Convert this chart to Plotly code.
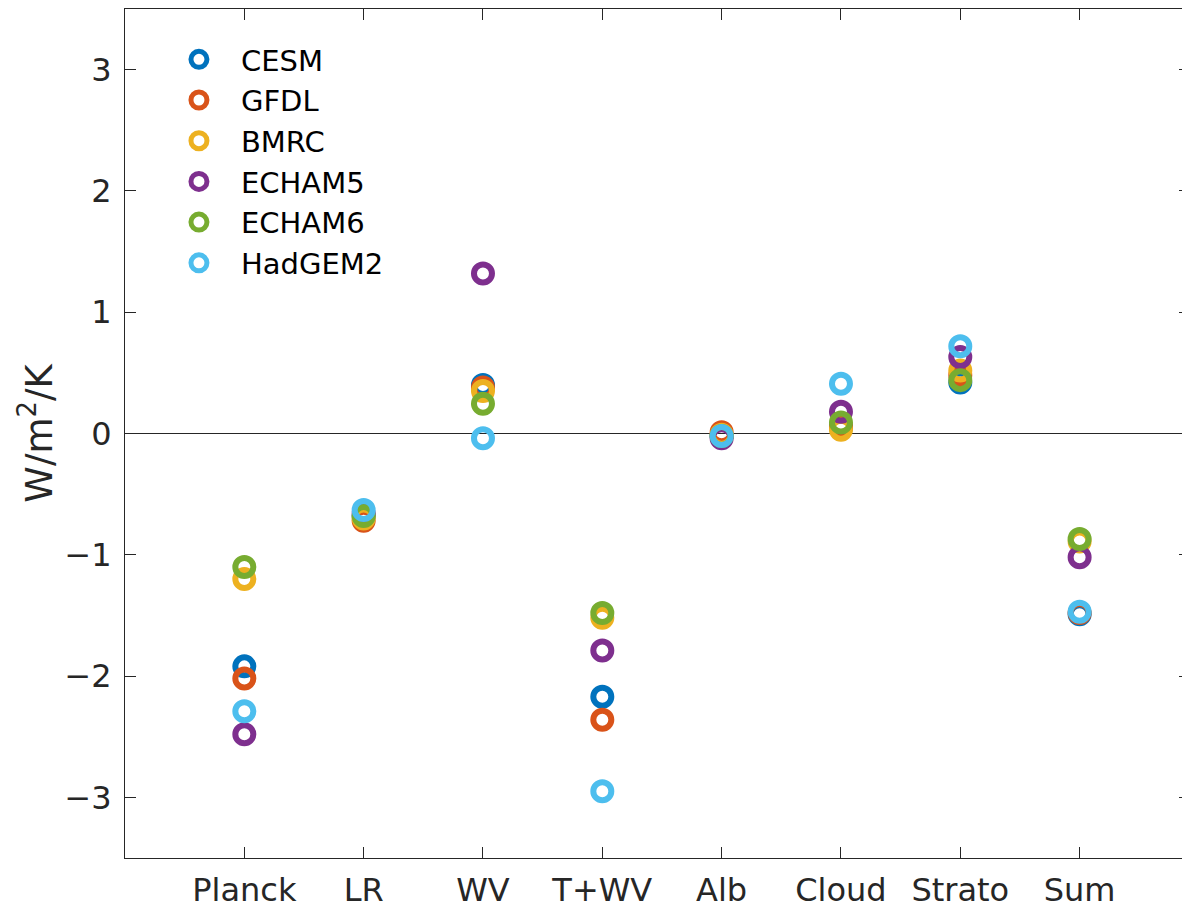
import plotly.graph_objects as go

categories = ["Planck", "LR", "WV", "T+WV", "Alb", "Cloud", "Strato", "Sum"]
models = ["CESM", "GFDL", "BMRC", "ECHAM5", "ECHAM6", "HadGEM2"]

cesm    = [-1.92, -0.68,  0.40, -2.17, -0.02, 0.05, 0.42, -1.49]
gfdl    = [-2.02, -0.72,  0.38, -2.36,  0.01, 0.06, 0.48, -1.48]
bmrc    = [-1.20, -0.70,  0.35, -1.52, -0.01, 0.03, 0.52, -0.89]
echam5  = [-2.48, -0.66,  1.32, -1.79, -0.04, 0.18, 0.63, -1.02]
echam6  = [-1.10, -0.68,  0.245, -1.48, -0.02, 0.09, 0.44, -0.87]
hadgem2 = [-2.29, -0.63, -0.04, -2.95, -0.02, 0.41, 0.72, -1.47]

series = [cesm, gfdl, bmrc, echam5, echam6, hadgem2]
colors = ["#0072BD", "#D95319", "#EDB120", "#7E2F8E", "#77AC30", "#4DBEEE"]

xpos = list(range(1, len(categories) + 1))

fig = go.Figure()
for name, vals, col in zip(models, series, colors):
    fig.add_trace(go.Scatter(
        x=xpos, y=vals, mode="markers", name=name, legendgroup=name,
        marker=dict(symbol="circle-open", size=18, color=col,
                    line=dict(width=6, color=col)),
    ))

axcol = "#262626"
fig.update_layout(
    width=1182, height=901,
    margin=dict(l=117, r=0, t=1, b=51),
    paper_bgcolor="white", plot_bgcolor="white",
    font=dict(family="DejaVu Sans", size=32, color=axcol),
    showlegend=True,
    legend=dict(x=0.030, y=0.9706, xanchor="left", yanchor="top",
                font=dict(size=29, color="black"),
                bgcolor="rgba(0,0,0,0)", tracegroupgap=0, itemwidth=74),
    xaxis=dict(range=[0, 8.925], tickmode="array", tickvals=xpos,
               ticktext=categories, ticks="inside", ticklen=11,
               tickcolor=axcol, showline=True, linecolor=axcol,
               linewidth=1, mirror="ticks", showgrid=False, zeroline=False,
               ticklabelstandoff=4, automargin=False),
    yaxis=dict(range=[-3.5, 3.5], tickmode="array",
               tickvals=[-3, -2, -1, 0, 1, 2, 3],
               ticktext=["\u22123", "\u22122", "\u22121", "0", "1", "2", "3"],
               ticks="inside", ticklen=11, tickcolor=axcol,
               showline=True, linecolor=axcol, linewidth=1, mirror="ticks",
               showgrid=False, zeroline=True, zerolinecolor="#262626",
               zerolinewidth=1, ticklabelstandoff=6, automargin=False,
               title=dict(text="W/m<sup>2</sup>/K", standoff=0,
                          font=dict(size=37))),
)

fig.write_html("out.html")
